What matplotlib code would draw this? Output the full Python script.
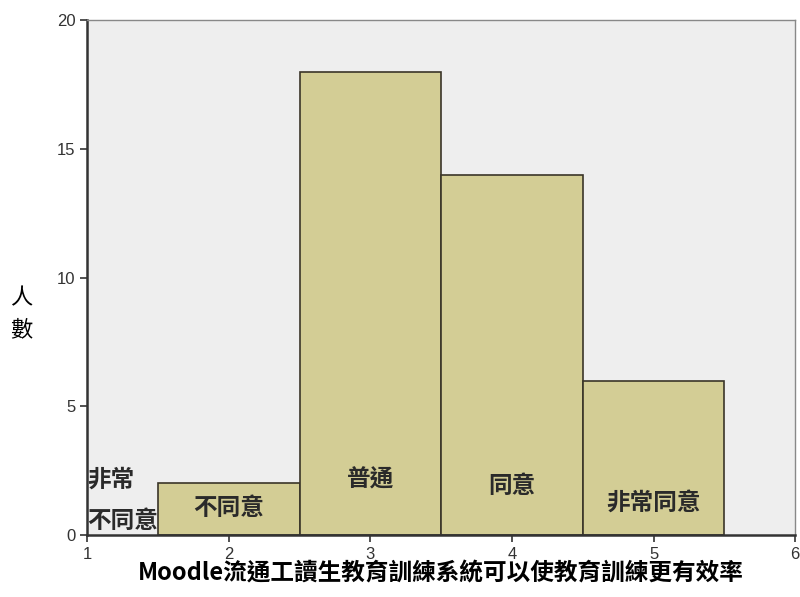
import matplotlib.pyplot as plt
import numpy as np

plt.rcParams['font.family'] = ['Noto Sans CJK TC', 'DejaVu Sans']

scores = [1, 2, 3, 4, 5]
counts = [0, 2, 18, 14, 6]
labels = ["非常\n不同意", "不同意", "普通", "同意", "非常同意"]
label_y = [0.6, 1.05, 2.15, 1.9, 1.25]

fig = plt.figure(figsize=(8, 5.97), dpi=100)
ax = fig.add_axes([0.109, 0.104, 0.885, 0.862])
ax.set_facecolor("#EEEEEE")

ax.bar(scores[1:], counts[1:], width=1.0, color="#D3CD95", edgecolor="#3A3528", linewidth=1.2)

# 1 = zero-count bar, label sits against the axis
ax.text(scores[0], 0.55, "不同意", fontsize=17, fontweight="bold", ha="left", va="center", color="#2a2a2a")
ax.text(scores[0], 2.15, "非常", fontsize=17, fontweight="bold", ha="left", va="center", color="#2a2a2a")
for s, lab, y in zip(scores[1:], labels[1:], label_y[1:]):
    ax.text(s, y, lab, fontsize=17, fontweight="bold", ha="center", va="center", color="#2a2a2a")

ax.set_xlim(1, 6)
ax.set_ylim(0, 20)
ax.set_xticks(np.arange(1, 7))
ax.set_yticks(np.arange(0, 21, 5))
ax.tick_params(axis="both", labelsize=12, colors="#333333", direction="out", length=5, width=1.2)
for t in ax.get_xticklabels() + ax.get_yticklabels():
    t.set_family("Liberation Sans")
for side in ["left", "bottom"]:
    ax.spines[side].set_linewidth(1.8)
    ax.spines[side].set_color("#333333")
for side in ["top", "right"]:
    ax.spines[side].set_linewidth(1.0)
    ax.spines[side].set_color("#888888")

ax.set_xlabel("Moodle流通工讀生教育訓練系統可以使教育訓練更有效率", fontsize=17, fontweight="bold", labelpad=0)
fig.text(0.026, 0.475, "人\n數", fontsize=16, fontweight="medium", ha="center", va="center", linespacing=1.5)

plt.savefig("out.png")
